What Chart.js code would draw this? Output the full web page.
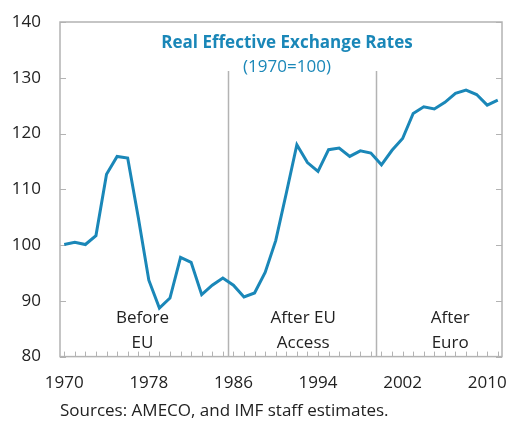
<!DOCTYPE html>
<html><head><meta charset="utf-8">
<script src="https://cdn.jsdelivr.net/npm/chart.js@4"></script>
<style>html,body{margin:0;padding:0;background:#fff}#wrap{width:510px;height:423px}</style>
</head><body><div id="wrap"><canvas id="c" width="510" height="423"></canvas></div>
<script>
const years = [1970,1971,1972,1973,1974,1975,1976,1977,1978,1979,1980,1981,1982,1983,1984,1985,1986,1987,1988,1989,1990,1991,1992,1993,1994,1995,1996,1997,1998,1999,2000,2001,2002,2003,2004,2005,2006,2007,2008,2009,2010,2011];
const reer = [100.1,100.5,100.1,101.7,112.7,115.9,115.6,105.0,93.7,88.7,90.5,97.8,96.9,91.1,92.8,94.1,92.8,90.7,91.4,95.1,100.8,109.3,118.0,114.8,113.2,117.1,117.4,115.9,116.9,116.5,114.4,117.0,119.1,123.6,124.8,124.4,125.6,127.2,127.8,127.0,125.1,126.0];
const xTicks = [1970,1978,1986,1994,2002,2010];
const yTicks = [80,90,100,110,120,130,140];
const dividers = [1985.5, 1999.5];
const dividerTop = 131.2;
const periodLabels = [["Before","EU"],["After EU","Access"],["After","Euro"]];
const periodCenters = [1977.4, 1992.6, 2006.5];
const titleText = "Real Effective Exchange Rates";
const subtitleText = "(1970=100)";
const sourceText = "Sources: AMECO, and IMF staff estimates.";

const BLUE = '#1a87b8', GRAY = '#b3b3b3', FONT = "'Open Sans', sans-serif";

const deco = {
  id: 'deco',
  beforeDatasetsDraw(chart) {
    const {ctx, chartArea: a, scales: {x, y}} = chart;
    ctx.save();
    ctx.strokeStyle = GRAY; ctx.lineWidth = 1.5;
    dividers.forEach(d => {
      const px = Math.round(x.getPixelForValue(d)) + 0.5;
      ctx.beginPath(); ctx.moveTo(px, y.getPixelForValue(dividerTop)); ctx.lineTo(px, a.bottom); ctx.stroke();
    });
    ctx.lineWidth = 1;
    for (let yr = 1970; yr <= 2011; yr++) {
      const px = Math.round(x.getPixelForValue(yr)) + 0.5;
      ctx.beginPath(); ctx.moveTo(px, a.bottom); ctx.lineTo(px, a.bottom - 5); ctx.stroke();
    }
    yTicks.forEach(v => {
      const py = Math.round(y.getPixelForValue(v)) + 0.5;
      ctx.beginPath(); ctx.moveTo(a.left, py); ctx.lineTo(a.left + 6, py); ctx.stroke();
      ctx.beginPath(); ctx.moveTo(a.right, py); ctx.lineTo(a.right - 6, py); ctx.stroke();
    });
    ctx.lineWidth = 1.5;
    ctx.strokeRect(a.left, a.top, a.right - a.left, a.bottom - a.top);
    ctx.fillStyle = '#222'; ctx.font = "17px " + FONT; ctx.textAlign = 'center'; ctx.textBaseline = 'middle';
    periodLabels.forEach((lines, i) => {
      const px = x.getPixelForValue(periodCenters[i]);
      ctx.fillText(lines[0], px, a.bottom - 38);
      ctx.fillText(lines[1], px, a.bottom - 13);
    });
    const cx = (a.left + a.right) / 2 + 6;
    ctx.fillStyle = BLUE;
    ctx.font = "bold 17px " + FONT;
    ctx.fillText(titleText, cx, a.top + 21);
    ctx.font = "17px " + FONT;
    ctx.fillText(subtitleText, cx, a.top + 45);
    ctx.fillStyle = '#222'; ctx.font = "17px " + FONT; ctx.textAlign = 'left';
    ctx.fillText(sourceText, a.left, chart.height - 12);
    ctx.restore();
  }
};

new Chart(document.getElementById('c'), {
  type: 'line',
  data: { datasets: [{ data: years.map((yr, i) => ({x: yr, y: reer[i]})), borderColor: BLUE, borderWidth: 3, pointRadius: 0, tension: 0, fill: false }] },
  options: {
    responsive: false, animation: false,
    layout: { padding: { top: 22, right: 8, bottom: 14, left: 0 } },
    plugins: { legend: { display: false }, tooltip: { enabled: false } },
    scales: {
      x: {
        type: 'linear', min: 1969.6, max: 2011.4,
        grid: { display: false, drawTicks: false }, border: { display: false },
        afterBuildTicks: s => { s.ticks = xTicks.map(v => ({value: v})); },
        afterFit: s => { s.paddingLeft = 0; s.paddingRight = 0; },
        ticks: { color: '#222', font: { family: FONT, size: 17 }, padding: 16, maxRotation: 0, autoSkip: false, callback: v => String(v) }
      },
      y: {
        min: 80, max: 140,
        grid: { display: false, drawTicks: false }, border: { display: false },
        afterBuildTicks: s => { s.ticks = yTicks.map(v => ({value: v})); },
        afterFit: s => { s.width = 60; s.paddingTop = 0; s.paddingBottom = 0; },
        ticks: { color: '#222', font: { family: FONT, size: 17 }, padding: 19 }
      }
    }
  },
  plugins: [deco]
});
</script></body></html>
